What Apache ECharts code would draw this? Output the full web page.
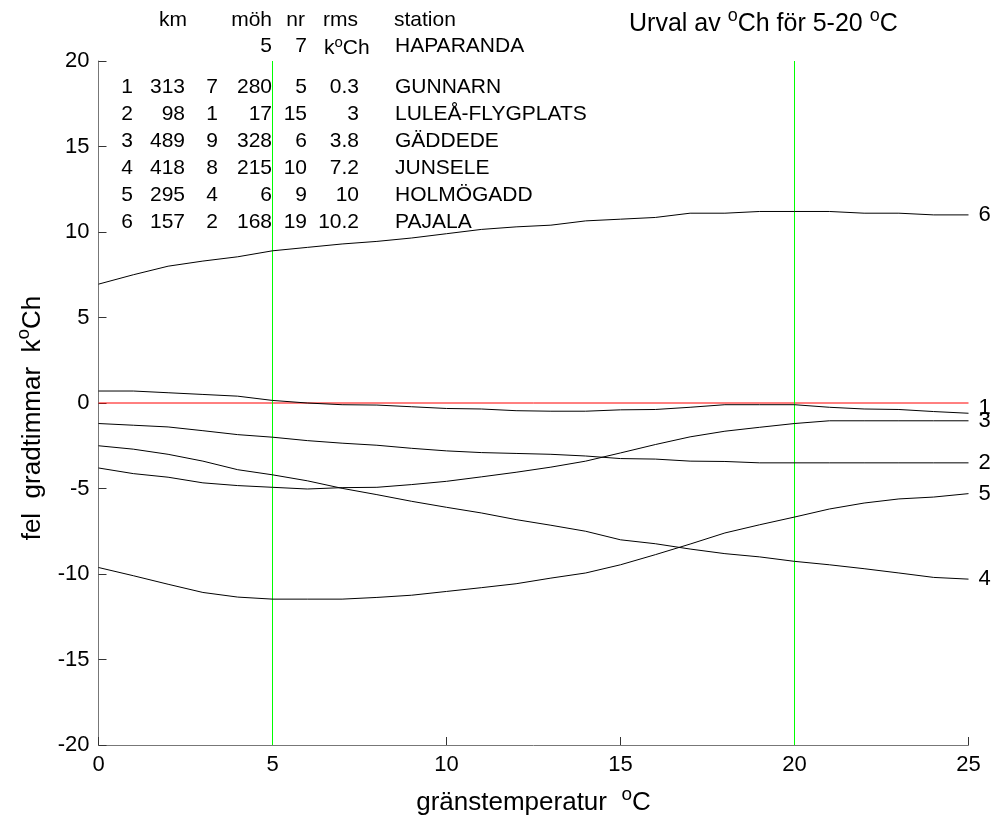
<!DOCTYPE html>
<html>
<head>
<meta charset="utf-8" />
<title>Urval av oCh</title>
<script src="https://cdn.jsdelivr.net/npm/echarts@6/dist/echarts.min.js"></script>
<style>
  html, body { margin: 0; padding: 0; background: #fff; }
  #chart { width: 992px; height: 825px; }
</style>
</head>
<body>
<div id="chart"></div>
<script type="text/javascript">
    // gränstemperatur 0..25 oC
    var xs = [0, 1, 2, 3, 4, 5, 6, 7, 8, 9, 10, 11, 12, 13, 14, 15, 16, 17, 18, 19, 20, 21, 22, 23, 24, 25];
    // fel gradtimmar per station
    var s1 = [0.7, 0.7, 0.6, 0.5, 0.4, 0.15, 0.0, -0.1, -0.12, -0.22, -0.32, -0.35, -0.45, -0.48, -0.48, -0.4, -0.38, -0.25, -0.1, -0.1, -0.1, -0.25, -0.35, -0.38, -0.5, -0.6];
    var s2 = [-1.2, -1.3, -1.4, -1.62, -1.85, -2.0, -2.2, -2.35, -2.47, -2.65, -2.8, -2.9, -2.95, -3.0, -3.1, -3.25, -3.28, -3.4, -3.42, -3.5, -3.5, -3.5, -3.5, -3.5, -3.5, -3.5];
    var s3 = [-3.8, -4.13, -4.34, -4.67, -4.83, -4.93, -5.03, -4.95, -4.93, -4.77, -4.58, -4.32, -4.05, -3.75, -3.4, -2.92, -2.43, -1.98, -1.65, -1.42, -1.2, -1.04, -1.04, -1.04, -1.04, -1.04];
    var s4 = [-2.5, -2.7, -3.0, -3.4, -3.9, -4.2, -4.55, -4.99, -5.36, -5.75, -6.1, -6.43, -6.82, -7.15, -7.5, -8.0, -8.23, -8.54, -8.81, -9.0, -9.26, -9.46, -9.69, -9.94, -10.2, -10.3];
    var s5 = [-9.62, -10.1, -10.6, -11.08, -11.35, -11.47, -11.47, -11.47, -11.37, -11.24, -11.02, -10.8, -10.57, -10.24, -9.94, -9.46, -8.87, -8.25, -7.6, -7.12, -6.67, -6.2, -5.85, -5.61, -5.5, -5.3];
    var s6 = [6.95, 7.5, 8.0, 8.3, 8.55, 8.9, 9.1, 9.3, 9.45, 9.65, 9.9, 10.15, 10.3, 10.4, 10.65, 10.75, 10.85, 11.1, 11.1, 11.2, 11.2, 11.2, 11.1, 11.1, 11.0, 11.0];
    var serieNamn = ['1', '2', '3', '4', '5', '6'];
    var serieData = [s1, s2, s3, s4, s5, s6];

    // urvalsintervall och nollinje
    var urval = [5, 20];
    var nollX = [0, 25];
    var nollY = [0, 0];

    var xTicks = [0, 5, 10, 15, 20, 25];
    var yTicks = [-20, -15, -10, -5, 0, 5, 10, 15, 20];

    // stationstabell
    var kmVals = ['313', '98', '489', '418', '295', '157'];
    var kolVals = ['7', '1', '9', '8', '4', '2'];
    var mohVals = ['280', '17', '328', '215', '6', '168'];
    var nrVals = ['5', '15', '6', '10', '9', '19'];
    var rmsVals = ['0.3', '3', '3.8', '7.2', '10', '10.2'];
    var stationer = ['GUNNARN', 'LULEÅ-FLYGPLATS', 'GÄDDEDE', 'JUNSELE', 'HOLMÖGADD', 'PAJALA'];
    var refStation = ['5', '7', 'HAPARANDA'];

    var FONT = "'Liberation Sans', Arial, sans-serif";
    var nor = { fontSize: 21, fontFamily: FONT, color: '#000', verticalAlign: 'bottom' };
    var sup = { fontSize: 15, fontFamily: FONT, color: '#000', verticalAlign: 'bottom', padding: [0, 0, 9, 0] };
    var norB = { fontSize: 26, fontFamily: FONT, color: '#000', verticalAlign: 'bottom' };
    var supB = { fontSize: 19, fontFamily: FONT, color: '#000', verticalAlign: 'bottom', padding: [0, 0, 12, 0] };
    var norT = { fontSize: 25, fontFamily: FONT, color: '#000', verticalAlign: 'bottom' };
    var supT = { fontSize: 18, fontFamily: FONT, color: '#000', verticalAlign: 'bottom', padding: [0, 0, 12, 0] };

    function txt(x, y, s, align) {
        return {
            type: 'text',
            x: x,
            y: y,
            silent: true,
            style: {
                text: s,
                fontSize: 21,
                fontFamily: FONT,
                fill: '#000',
                textAlign: align || 'right',
                textVerticalAlign: 'middle',
                rich: { n: nor, s: sup, tn: norT, ts: supT }
            }
        };
    }

    var graphics = [];
    // rubriker
    graphics.push(txt(187, 20, 'km'));
    graphics.push(txt(272, 20, 'möh'));
    graphics.push(txt(305, 20, 'nr'));
    graphics.push(txt(358, 20, 'rms'));
    graphics.push(txt(394, 20, 'station', 'left'));
    // referensstation
    graphics.push(txt(272, 46, refStation[0]));
    graphics.push(txt(307, 46, refStation[1]));
    graphics.push(txt(324, 47, '{n|k}{s|o}{n|Ch}', 'left'));
    graphics.push(txt(395, 46, refStation[2], 'left'));
    // rader
    for (var i = 0; i < stationer.length; i++) {
        var y = 87 + i * 27;
        graphics.push(txt(133, y, serieNamn[i]));
        graphics.push(txt(185, y, kmVals[i]));
        graphics.push(txt(218, y, kolVals[i]));
        graphics.push(txt(272, y, mohVals[i]));
        graphics.push(txt(307, y, nrVals[i]));
        graphics.push(txt(359, y, rmsVals[i]));
        graphics.push(txt(395, y, stationer[i], 'left'));
    }
    // titel
    graphics.push(txt(629, 22, '{tn|Urval av }{ts|o}{tn|Ch för 5-20 }{ts|o}{tn|C}', 'left'));

    var series = [];
    for (var k = 0; k < serieData.length; k++) {
        var pts = [];
        for (var j = 0; j < xs.length; j++) pts.push([xs[j], serieData[k][j]]);
        series.push({
            name: serieNamn[k],
            type: 'line',
            data: pts,
            symbol: 'none',
            smooth: false,
            z: 4,
            lineStyle: { color: '#000', width: 1 },
            endLabel: {
                show: true,
                formatter: '{a}',
                distance: 10,
                offset: k === 0 ? [0, -5] : [0, 0],
                fontSize: 22,
                fontFamily: FONT,
                color: '#000'
            }
        });
    }
    // nollinje (röd)
    series.push({
        name: 'noll',
        type: 'line',
        data: [[nollX[0], nollY[0]], [nollX[1], nollY[1]]],
        symbol: 'none',
        z: 3,
        lineStyle: { color: '#ff0000', width: 1 }
    });
    // urvalsgränser (gröna)
    urval.forEach(function (v) {
        series.push({
            name: 'urval' + v,
            type: 'line',
            data: [[v, yTicks[0]], [v, yTicks[yTicks.length - 1]]],
            symbol: 'none',
            z: 3,
            lineStyle: { color: '#00ff00', width: 1 }
        });
    });

    var myChart = echarts.init(document.getElementById('chart'));
    myChart.setOption({
        animation: false,
        backgroundColor: '#fff',
        grid: { left: 98.5, right: 23.5, top: 61, bottom: 80 },
        xAxis: {
            type: 'value',
            min: xTicks[0],
            max: xTicks[xTicks.length - 1],
            interval: xTicks[1] - xTicks[0],
            name: '{n|gränstemperatur  }{s|o}{n|C}',
            nameLocation: 'middle',
            nameGap: 40,
            nameTextStyle: { rich: { n: norB, s: supB } },
            axisLine: { onZero: false, lineStyle: { color: '#777', width: 1 } },
            axisTick: { inside: true, length: 8, lineStyle: { color: '#333' } },
            axisLabel: { fontSize: 22, fontFamily: FONT, color: '#000', margin: 9 },
            splitLine: { show: false }
        },
        yAxis: {
            type: 'value',
            min: yTicks[0],
            max: yTicks[yTicks.length - 1],
            interval: yTicks[1] - yTicks[0],
            name: '{n|fel  gradtimmar  k}{s|o}{n|Ch}',
            nameLocation: 'middle',
            nameRotate: 90,
            nameGap: 53,
            nameTextStyle: { padding: [0, 30, 0, 0], rich: { n: norB, s: supB } },
            axisLine: { show: true, onZero: false, lineStyle: { color: '#777', width: 1 } },
            axisTick: { show: true, inside: true, length: 8, lineStyle: { color: '#333' } },
            axisLabel: { fontSize: 22, fontFamily: FONT, color: '#000', margin: 9 },
            splitLine: { show: false }
        },
        graphic: graphics,
        series: series
    });
</script>
</body>
</html>
